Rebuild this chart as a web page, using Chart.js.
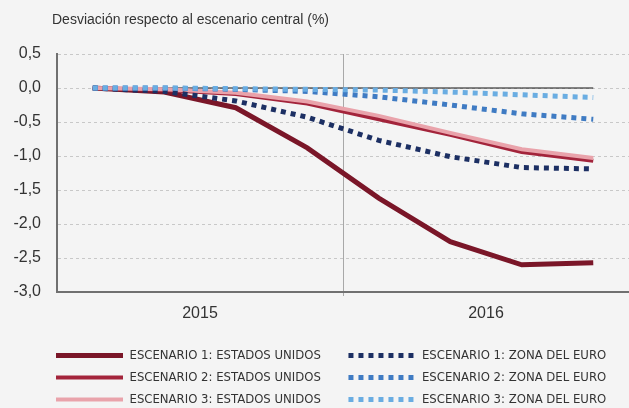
<!DOCTYPE html>
<html>
<head>
<meta charset="utf-8">
<script src="https://cdn.jsdelivr.net/npm/chart.js@4"></script>
<style>
  html, body { margin: 0; padding: 0; background: #f4f4f4; }
  #wrap { position: relative; width: 629px; height: 408px; overflow: hidden; }
  #title {
    position: absolute; left: 52px; top: 11px;
    font: 14px "Liberation Sans", Arial, sans-serif; color: #333;
  }
</style>
</head>
<body>
<div id="wrap">
  <div id="title">Desviación respecto al escenario central (%)</div>
  <canvas id="chart" width="629" height="408"></canvas>
</div>
<script>
// trimestres 2015-2016
const quarters = ["I 2015", "II 2015", "III 2015", "IV 2015", "I 2016", "II 2016", "III 2016", "IV 2016"]
const years = ["2015", "2016"]

const eeuu1 = [0, -0.06, -0.29, -0.88, -1.62, -2.26, -2.60, -2.57]
const eeuu2 = [0, -0.03, -0.09, -0.23, -0.46, -0.69, -0.94, -1.07]
const eeuu3 = [0, -0.02, -0.07, -0.20, -0.41, -0.66, -0.90, -1.03]
const euro1 = [0, -0.05, -0.19, -0.43, -0.77, -1.01, -1.17, -1.19]
const euro2 = [0, 0, -0.02, -0.05, -0.13, -0.25, -0.38, -0.46]
const euro3 = [0, 0, -0.01, -0.02, -0.03, -0.06, -0.10, -0.14]
const baseline = [0, 0, 0, 0, 0, 0, 0, 0]

// legend goes US1, EURO1, US2, EURO2, US3, EURO3
const legendRank = ["ESCENARIO 1: ESTADOS UNIDOS", "ESCENARIO 1: ZONA DEL EURO",
    "ESCENARIO 2: ESTADOS UNIDOS", "ESCENARIO 2: ZONA DEL EURO",
    "ESCENARIO 3: ESTADOS UNIDOS", "ESCENARIO 3: ZONA DEL EURO"]

function solid(label, data, color, width) {
    return { label: label, data: data, borderColor: color, backgroundColor: color,
        borderWidth: width, pointRadius: 0, tension: 0, borderJoin: "round" }
}

function dotted(label, data, color) {
    return { label: label, data: data, borderColor: color, backgroundColor: color,
        borderWidth: 5, borderDash: [5, 5], pointRadius: 0, tension: 0 }
}

// first dataset is painted last (on top)
const datasets = [
    dotted("ESCENARIO 3: ZONA DEL EURO", euro3, "#6aade2"),
    dotted("ESCENARIO 2: ZONA DEL EURO", euro2, "#3f7bc3"),
    dotted("ESCENARIO 1: ZONA DEL EURO", euro1, "#1c2f63"),
    solid("ESCENARIO 3: ESTADOS UNIDOS", eeuu3, "#e9a3ab", 4),
    solid("ESCENARIO 2: ESTADOS UNIDOS", eeuu2, "#a3243b", 4),
    solid("ESCENARIO 1: ESTADOS UNIDOS", eeuu1, "#7a1628", 5),
    { label: "base", data: baseline, borderColor: "#111", borderWidth: 1, pointRadius: 0 }
]

// legend starts under the y axis instead of at the canvas edge
const legendShift = {
    id: "legendShift",
    afterLayout(ch) {
        if (ch.legend) ch.legend.left = 47
    }
}

const chart = new Chart(document.getElementById("chart"), {
    type: "line",
    data: { labels: quarters, datasets: datasets },
    plugins: [legendShift],
    options: {
        responsive: false,
        animation: false,
        layout: { padding: { left: 0, right: 0, top: 54, bottom: 0 } },
        plugins: {
            tooltip: { enabled: false },
            legend: {
                position: "bottom",
                align: "start",
                maxHeight: 68,
                labels: {
                    usePointStyle: true,
                    pointStyle: "line",
                    pointStyleWidth: 67,
                    boxHeight: 13,
                    padding: 9,
                    color: "#333",
                    font: { family: "'Liberation Sans Narrow', 'DejaVu Sans Condensed', Arial", size: 13 },
                    filter: item => item.text !== "base",
                    sort: (a, b) => legendRank.indexOf(a.text.trim()) - legendRank.indexOf(b.text.trim()),
                    generateLabels: function (ch) {
                        const items = Chart.defaults.plugins.legend.labels.generateLabels(ch)
                        items.forEach(it => {
                            const ds = ch.data.datasets[it.datasetIndex]
                            it.pointStyle = "line"
                            it.lineCap = "butt"
                            it.lineWidth = ds.borderWidth
                            it.lineDash = ds.borderDash || []
                            // wider left column
                            if (it.text.indexOf("ESTADOS") > 0) it.text += "     "
                        })
                        return items
                    }
                }
            }
        },
        scales: {
            x: {
                display: false,
                offset: true
            },
            xYear: {
                type: "category",
                labels: years,
                position: "bottom",
                offset: true,
                afterFit: s => { s.height = 48 },
                border: { display: true, color: "#707070", width: 2 },
                grid: {
                    offset: true,
                    drawOnChartArea: true,
                    tickLength: 4,
                    lineWidth: 1,
                    color: ctx => ctx.index === 1 ? "#a8a8a8" : "rgba(0,0,0,0)"
                },
                ticks: {
                    color: "#333",
                    padding: 8,
                    font: { family: "'Liberation Sans', Arial", size: 16 }
                }
            },
            y: {
                min: -3,
                max: 0.5,
                afterFit: s => { s.width = 57 },
                border: { display: true, color: "#707070", width: 2, dash: [3, 3] },
                grid: {
                    drawTicks: false,
                    color: "#c8c8c8",
                    lineWidth: 1
                },
                ticks: {
                    stepSize: 0.5,
                    color: "#333",
                    padding: 16,
                    font: { family: "'Liberation Sans', Arial", size: 16 },
                    callback: v => Number(v).toFixed(1).replace(".", ",")
                }
            }
        }
    }
})
</script>
</body>
</html>
